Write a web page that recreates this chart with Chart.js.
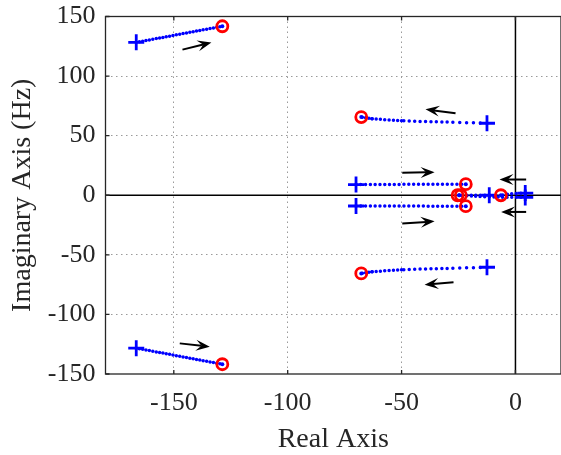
<!DOCTYPE html>
<html>
<head>
<meta charset="utf-8">
<script src="https://cdn.jsdelivr.net/npm/chart.js@4.4.1/dist/chart.umd.min.js"></script>
<style>
  html, body { margin: 0; padding: 0; background: #fff; }
  #wrap { width: 561px; height: 455px; }
</style>
</head>
<body>
<div id="wrap"><canvas id="locus" width="561" height="455"></canvas></div>
<script>
const xTicks = [-150, -100, -50, 0];
const yTicks = [-150, -100, -50, 0, 50, 100, 150];

// root locus branches, [real, imag] from pole to zero
const branchFarUp = [[-166.5, 128.3], [-128.7, 141.8]];
const branchFarDown = [[-166.5, -128.3], [-128.7, -141.8]];
const branchMidUp = [[-12.5, 60.4], [-30, 61.4], [-50, 62.5], [-63, 64.3], [-67.7, 65.6]];
const branchMidDown = [[-12.5, -60.4], [-30, -61.4], [-50, -62.5], [-63, -64.3], [-67.7, -65.6]];
const branchLowUp = [[-70, 9], [-21.8, 9.3]];
const branchLowDown = [[-70, -9], [-21.8, -9.2]];
const branchAxisA = [[-11.5, 0], [-24.7, 0]];
const branchAxisB = [[4.3, 1.8], [-2, 1.2], [-6.4, 0]];
const branchAxisC = [[4.3, -1.8], [-8, -1.5], [-18, -0.8], [-24.7, 0]];

const poles = [[-166.5, 128.3], [-166.5, -128.3], [-12.5, 60.4], [-12.5, -60.4],
  [-70, 9], [-70, -9], [-11.5, 0], [4.3, 1.8], [4.3, -1.8]];
const zeros = [[-128.7, 141.8], [-128.7, -141.8], [-67.7, 65.6], [-67.7, -65.6],
  [-21.8, 9.3], [-21.8, -9.2], [-25.4, 0], [-24.0, 0], [-6.4, 0]];

// direction arrows: [x1, y1, x2, y2], head at the second point
const arrows = [
  [-146.2, 122.2, -133.5, 128.1],
  [-147.4, -124.3, -134.2, -127.1],
  [-26.3, 68.8, -39.5, 72.1],
  [-27.2, -73.0, -39.9, -75.2],
  [-49.7, 18.8, -35.5, 19.4],
  [-49.7, -23.8, -35.5, -21.9],
  [4.7, 13.2, -7.0, 13.2],
  [4.7, -14.0, -6.3, -14.0]
];

const pts = arr => arr.map(p => ({ x: p[0], y: p[1] }));

const branches = [branchFarUp, branchFarDown, branchMidUp, branchMidDown,
  branchLowUp, branchLowDown, branchAxisA, branchAxisB, branchAxisC];

// dot gap per branch; mid branches get tighter toward the zero
const gaps = [[3.4], [3.4], [6.8, 5.4, 4.2, 3.2], [6.8, 5.4, 4.2, 3.2],
  [4.8], [4.8], [4.5], [4.5], [4.5]];

const datasets = [
  {
    data: pts(zeros),
    pointStyle: 'circle',
    pointRadius: 5.5,
    pointBorderWidth: 2.8,
    pointBorderColor: '#ff0000',
    pointBackgroundColor: 'rgba(0,0,0,0)',
    showLine: false
  },
  {
    data: pts(poles),
    pointStyle: 'cross',
    pointRadius: 8,
    pointBorderWidth: 2.8,
    pointBorderColor: '#0000ff',
    showLine: false
  }
];
branches.forEach((b, i) => {
  const g = gaps[i];
  datasets.push({
    data: pts(b),
    showLine: true,
    borderColor: '#0000ff',
    borderWidth: 3.5,
    borderDash: [0, g[0]],
    borderCapStyle: 'round',
    segment: {
      borderDash: ctx => [0, g[Math.min(ctx.p0DataIndex, g.length - 1)]]
    },
    tension: 0.3,
    pointRadius: ctx => ctx.dataIndex === b.length - 1 ? 2 : 0,
    pointBackgroundColor: '#0000ff',
    pointBorderWidth: 0
  });
});

const frameColor = '#262626';

const decor = {
  id: 'decor',
  beforeDatasetsDraw(chart) {
    const { ctx, chartArea: a, scales: { x, y } } = chart;
    ctx.save();
    // axes through origin
    ctx.strokeStyle = '#000';
    ctx.lineWidth = 1.5;
    ctx.beginPath();
    ctx.moveTo(x.getPixelForValue(0), a.top);
    ctx.lineTo(x.getPixelForValue(0), a.bottom);
    ctx.moveTo(a.left, y.getPixelForValue(0));
    ctx.lineTo(a.right, y.getPixelForValue(0));
    ctx.stroke();
    // box and inward ticks
    ctx.strokeStyle = frameColor;
    ctx.lineWidth = 1.3;
    ctx.strokeRect(a.left, a.top, a.right - a.left, a.bottom - a.top);
    ctx.beginPath();
    xTicks.forEach(v => {
      const px = x.getPixelForValue(v);
      ctx.moveTo(px, a.bottom); ctx.lineTo(px, a.bottom - 4);
      ctx.moveTo(px, a.top); ctx.lineTo(px, a.top + 4);
    });
    yTicks.forEach(v => {
      const py = y.getPixelForValue(v);
      ctx.moveTo(a.left, py); ctx.lineTo(a.left + 4, py);
    });
    ctx.stroke();
    ctx.restore();
  },
  afterDatasetsDraw(chart) {
    const { ctx, scales: { x, y } } = chart;
    ctx.save();
    ctx.strokeStyle = '#000';
    ctx.fillStyle = '#000';
    ctx.lineWidth = 2;
    arrows.forEach(ar => {
      const x1 = x.getPixelForValue(ar[0]), y1 = y.getPixelForValue(ar[1]);
      const x2 = x.getPixelForValue(ar[2]), y2 = y.getPixelForValue(ar[3]);
      const ang = Math.atan2(y2 - y1, x2 - x1);
      const len = 14, half = 5.5;
      ctx.beginPath();
      ctx.moveTo(x1, y1);
      ctx.lineTo(x2 - Math.cos(ang) * len * 0.6, y2 - Math.sin(ang) * len * 0.6);
      ctx.stroke();
      ctx.save();
      ctx.translate(x2, y2);
      ctx.rotate(ang);
      ctx.beginPath();
      ctx.moveTo(0, 0);
      ctx.lineTo(-len, -half);
      ctx.lineTo(-len * 0.6, 0);
      ctx.lineTo(-len, half);
      ctx.closePath();
      ctx.fill();
      ctx.restore();
    });
    ctx.restore();
  }
};

const tickFont = { family: 'Liberation Serif', size: 26 };
const titleFont = { family: 'Liberation Serif', size: 28 };

new Chart(document.getElementById('locus').getContext('2d'), {
  type: 'scatter',
  data: { datasets: datasets },
  options: {
    responsive: false,
    animation: false,
    devicePixelRatio: 1,
    layout: { autoPadding: false, padding: { top: 16.5, left: 0, right: 0, bottom: 0 } },
    plugins: { legend: { display: false }, tooltip: { enabled: false } },
    scales: {
      x: {
        type: 'linear',
        min: -180,
        max: 20,
        afterBuildTicks: s => { s.ticks = xTicks.map(v => ({ value: v })); },
        afterFit: s => { s.height = 81; s.paddingLeft = 0; s.paddingRight = 0; },
        border: { display: false, dash: [1.5, 3.5] },
        grid: {
          drawTicks: false,
          lineWidth: 1,
          color: c => (c.tick && c.tick.value !== 0) ? '#9a9a9a' : 'rgba(0,0,0,0)'
        },
        ticks: {
          padding: 14,
          color: frameColor,
          font: tickFont,
          maxRotation: 0,
          callback: v => String(v)
        },
        title: {
          display: true,
          text: 'Real Axis',
          color: frameColor,
          font: titleFont,
          padding: { top: 0, bottom: -1 }
        }
      },
      y: {
        type: 'linear',
        min: -150,
        max: 150,
        afterBuildTicks: s => { s.ticks = yTicks.map(v => ({ value: v })); },
        afterFit: s => { s.width = 105.5; s.paddingTop = 0; s.paddingBottom = 0; },
        border: { display: false, dash: [1.5, 3.5] },
        grid: {
          drawTicks: false,
          lineWidth: 1,
          color: c => (c.tick && c.tick.value !== 0 && Math.abs(c.tick.value) !== 150) ? '#9a9a9a' : 'rgba(0,0,0,0)'
        },
        ticks: {
          padding: 10,
          color: frameColor,
          font: tickFont,
          callback: v => String(v)
        },
        title: {
          display: true,
          text: 'Imaginary Axis (Hz)',
          color: frameColor,
          font: titleFont,
          padding: { top: 6, bottom: 0 }
        }
      }
    }
  },
  plugins: [decor]
});
</script>
</body>
</html>
